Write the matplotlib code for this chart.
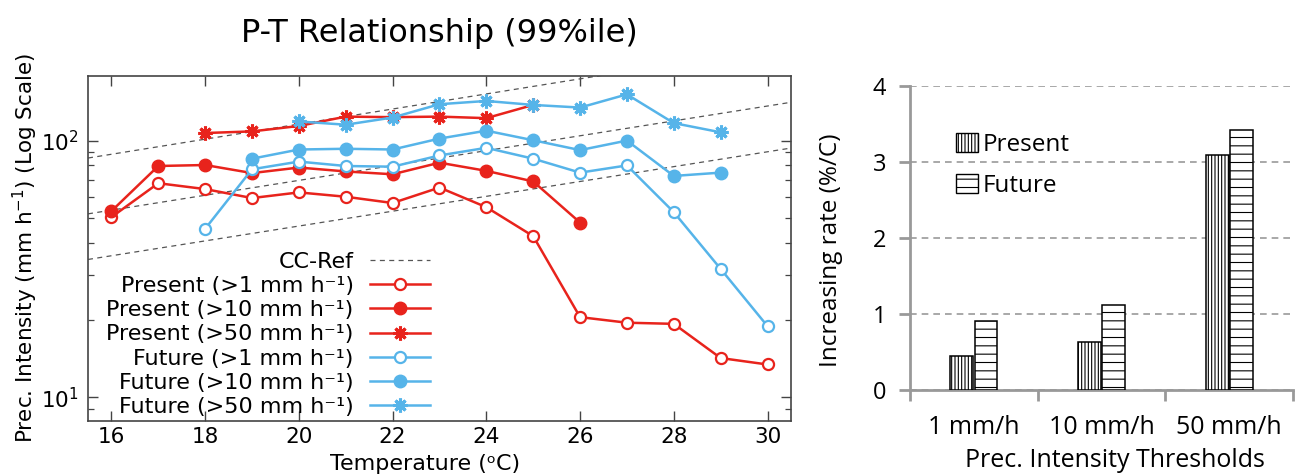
import matplotlib
matplotlib.use("Agg")
import matplotlib.pyplot as plt
from matplotlib.patches import Patch

# ---- left panel: 99th percentile intensity vs temperature ----
temp_p1 = [16, 17, 18, 19, 20, 21, 22, 23, 24, 25, 26, 27, 28, 29, 30]
present_1 = [50.3, 68.2, 64.7, 59.7, 62.8, 60.4, 57.1, 65.6, 55.0, 42.4, 20.5, 19.5, 19.3, 14.2, 13.4]

temp_p10 = [16, 17, 18, 19, 20, 21, 22, 23, 24, 25, 26]
present_10 = [53.1, 79.6, 80.3, 74.7, 78.5, 75.8, 73.9, 82.0, 76.2, 69.3, 47.9]

temp_p50 = [18, 19, 20, 21, 22, 23, 24, 25]
present_50 = [107.0, 108.6, 114.0, 124.0, 123.4, 124.0, 122.3, 137.7]

temp_f1 = [18, 19, 20, 21, 22, 23, 24, 25, 26, 27, 28, 29, 30]
future_1 = [45.3, 77.3, 82.8, 79.6, 79.1, 87.5, 93.7, 85.0, 75.0, 80.0, 52.6, 31.6, 18.9]

temp_f10 = [19, 20, 21, 22, 23, 24, 25, 26, 27, 28, 29]
future_10 = [85.0, 92.3, 92.9, 92.3, 101.8, 109.3, 100.3, 91.8, 100.0, 72.8, 75.0]

temp_f50 = [20, 21, 22, 23, 24, 25, 26, 27, 28, 29]
future_50 = [118.7, 115.3, 123.0, 138.6, 142.7, 137.7, 134.5, 151.4, 117.0, 107.7]

# Clausius-Clapeyron reference lines (end points)
cc_temp = [15.5, 30.5]
cc_high = [85.5, 236.0]
cc_mid = [51.8, 141.0]
cc_low = [34.4, 93.5]

# ---- right panel: increasing rate per threshold ----
thresholds = ["1 mm/h", "10 mm/h", "50 mm/h"]
rate_present = [0.45, 0.635, 3.09]
rate_future = [0.91, 1.115, 3.42]

RED = "#e8231c"
BLUE = "#56b4e9"
RFONT = "Open Sans"

plt.rcParams["font.family"] = ["DejaVu Sans"]
plt.rcParams["mathtext.default"] = "regular"
plt.rcParams["hatch.linewidth"] = 0.8

fig = plt.figure(figsize=(12.96, 4.75), dpi=100)

ax = fig.add_axes([0.0679, 0.1137, 0.5424, 0.7269])
for v in (cc_high, cc_mid, cc_low):
    ax.plot(cc_temp, v, color="#555555", lw=0.9, ls=(0, (4, 3.5)),
            label="CC-Ref" if v is cc_high else None)

line_kw = dict(lw=1.8)
ax.plot(temp_p1, present_1, color=RED, marker="o", ms=8, mfc="white", mew=1.6,
        label="Present (>1 mm h\u207b\u00b9)", **line_kw)
ax.plot(temp_p10, present_10, color=RED, marker="o", ms=9, mfc=RED,
        label="Present (>10 mm h\u207b\u00b9)", **line_kw)
ax.plot(temp_p50, present_50, color=RED, marker=(8, 2, 0), ms=10, mew=2.2,
        label="Present (>50 mm h\u207b\u00b9)", **line_kw)
ax.plot(temp_f1, future_1, color=BLUE, marker="o", ms=8, mfc="white", mew=1.6,
        label="Future (>1 mm h\u207b\u00b9)", **line_kw)
ax.plot(temp_f10, future_10, color=BLUE, marker="o", ms=9, mfc=BLUE,
        label="Future (>10 mm h\u207b\u00b9)", **line_kw)
ax.plot(temp_f50, future_50, color=BLUE, marker=(8, 2, 0), ms=10, mew=2.2,
        label="Future (>50 mm h\u207b\u00b9)", **line_kw)

ax.set_yscale("log")
ax.set_xlim(15.5, 30.5)
ax.set_ylim(8.07, 179)
ax.set_xticks(range(16, 31, 2))
ax.tick_params(which="both", direction="in", top=True, right=True, colors="#444444",
               labelcolor="black", labelsize=15.5, pad=4)
ax.tick_params(axis="y", pad=7)
ax.tick_params(which="major", length=7, width=1.0)
ax.tick_params(which="minor", length=4, width=0.9)
for s in ax.spines.values():
    s.set_color("#444444")
    s.set_linewidth(1.2)
ax.set_xlabel("Temperature (\u1d52C)", fontsize=16, va="bottom")
ax.xaxis.set_label_coords(0.48, 0.0015, transform=fig.transFigure)
ax.xaxis.label.set_x(0.328)
ax.set_ylabel("Prec. Intensity (mm h$^{-1}$) (Log Scale)", fontsize=15.5)
ax.yaxis.set_label_coords(-0.068, 0.5)
fig.text(0.339, 0.93, "P-T Relationship (99%ile)", ha="center", va="center", fontsize=23)

leg = ax.legend(loc="upper right", bbox_to_anchor=(0.487, 0.49), frameon=False,
                markerfirst=False, fontsize=16, handlelength=2.7, handletextpad=0.75,
                labelspacing=0.19, borderpad=0, borderaxespad=0)

# ---- right panel ----
bx = fig.add_axes([0.7022, 0.1789, 0.2955, 0.6407])
centers = [i + 0.5 for i in range(len(thresholds))]
bx.bar([c - 0.095 for c in centers], rate_present, width=0.18, color="white",
       edgecolor="black", lw=1.1, hatch="|||||", label="Present", zorder=3)
bx.bar([c + 0.095 for c in centers], rate_future, width=0.18, color="white",
       edgecolor="black", lw=1.1, hatch="--", label="Future", zorder=3)
bx.set_xlim(0, 3)
bx.set_ylim(0, 4)
bx.set_yticks([0, 1, 2, 3, 4])
bx.set_xticks([0, 1, 2, 3])
bx.set_xticklabels([])
bx.set_xticks(centers, minor=True)
bx.set_xticklabels(thresholds, minor=True, fontfamily=RFONT, fontsize=18)
bx.tick_params(axis="x", which="minor", length=0, pad=18)
bx.tick_params(which="major", length=8, width=2, color="#999999")
bx.tick_params(axis="y", labelsize=17, pad=9)
for lbl in bx.get_yticklabels():
    lbl.set_fontfamily(RFONT)
bx.yaxis.grid(True, color="#999999", lw=1.2, ls=(0, (4, 3)), zorder=0)
bx.set_axisbelow(True)
for side in ("top", "right"):
    bx.spines[side].set_visible(False)
for side in ("left", "bottom"):
    bx.spines[side].set_color("#999999")
    bx.spines[side].set_linewidth(2)
bx.set_ylabel("Increasing rate (%/C)", fontfamily=RFONT, fontsize=17.5)
bx.yaxis.set_label_coords(-0.175, 0.46)
bx.set_xlabel("Prec. Intensity Thresholds", fontfamily=RFONT, fontsize=18)
bx.xaxis.set_label_coords(0.535, -0.19)

handles = [Patch(facecolor="white", edgecolor="black", hatch="|||||", lw=1.0),
           Patch(facecolor="white", edgecolor="black", hatch="--", lw=1.0)]
bx.legend(handles, ["Present", "Future"], loc="upper left", bbox_to_anchor=(0.12, 0.845),
          frameon=False, prop={"family": RFONT, "size": 17.5}, handlelength=0.9,
          handleheight=0.8, handletextpad=0.2, labelspacing=0.7, borderpad=0,
          borderaxespad=0)

fig.savefig("out.png", dpi=100)
